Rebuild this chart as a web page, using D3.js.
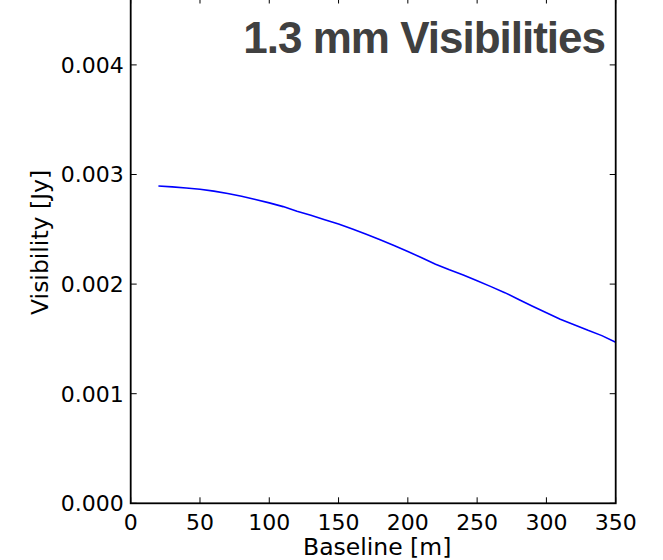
<!DOCTYPE html>
<html>
<head>
<meta charset="utf-8">
<script src="https://cdn.jsdelivr.net/npm/d3@7"></script>
<style>
  html, body { margin: 0; padding: 0; background: #fff; }
  svg { display: block; }
  .tick-label { font-family: "DejaVu Sans", sans-serif; font-size: 22px; fill: #000; }
  .axis-title { font-family: "DejaVu Sans", sans-serif; font-size: 23.5px; fill: #000; }
  .title { font-family: "Liberation Sans", Arial, sans-serif; font-weight: bold; font-size: 44px; fill: #404040; }
</style>
</head>
<body>
<svg id="chart" width="663" height="560"></svg>
<script>
// Visibility amplitude vs. baseline length at 1.3 mm
const baselines = [20, 30, 40, 50, 60, 70, 80, 90, 100, 110, 120, 130, 140, 150, 160, 170, 180,
  190, 200, 210, 220, 230, 240, 250, 260, 270, 280, 290, 300, 310, 320, 330, 340, 350];
const visibilities = [0.002895, 0.002887, 0.002877, 0.002865, 0.002848, 0.002827, 0.002801,
  0.002772, 0.002741, 0.002707, 0.002665, 0.002628, 0.002588, 0.002548, 0.002502, 0.002455,
  0.002405, 0.002352, 0.002298, 0.002240, 0.002182, 0.002130, 0.002082, 0.002030, 0.001977,
  0.001922, 0.001860, 0.001798, 0.001738, 0.001680, 0.001630, 0.001578, 0.001530, 0.001470];

const xTicks = [0, 50, 100, 150, 200, 250, 300, 350];
const yTicks = [0.000, 0.001, 0.002, 0.003, 0.004];
const xDomain = [0, 350];
const yDomain = [0, 0.004615];

const titleText = "1.3 mm Visibilities";
const xLabel = "Baseline [m]";
const yLabel = "Visibility [Jy]";

const svg = d3.select("#chart");
const plot = { left: 130.7, right: 615.7, top: -2.5, bottom: 503.3 };

const x = d3.scaleLinear().domain(xDomain).range([plot.left, plot.right]);
const y = d3.scaleLinear().domain(yDomain).range([plot.bottom, plot.top]);
const tickLen = 6;

// data line
const line = d3.line().x((d, i) => x(baselines[i])).y(d => y(d));
svg.append("path")
  .datum(visibilities)
  .attr("d", line)
  .attr("fill", "none")
  .attr("stroke", "#0000ff")
  .attr("stroke-width", 1.6);

// inward ticks on all four sides
const tickG = svg.append("g").attr("stroke", "#000").attr("stroke-width", 1);
xTicks.forEach(t => {
  tickG.append("line").attr("x1", x(t)).attr("x2", x(t)).attr("y1", plot.bottom).attr("y2", plot.bottom - tickLen);
  tickG.append("line").attr("x1", x(t)).attr("x2", x(t)).attr("y1", plot.top).attr("y2", plot.top + tickLen);
});
yTicks.forEach(t => {
  tickG.append("line").attr("x1", plot.left).attr("x2", plot.left + tickLen).attr("y1", y(t)).attr("y2", y(t));
  tickG.append("line").attr("x1", plot.right).attr("x2", plot.right - tickLen).attr("y1", y(t)).attr("y2", y(t));
});

// frame
svg.append("rect")
  .attr("x", plot.left).attr("y", plot.top)
  .attr("width", plot.right - plot.left).attr("height", plot.bottom - plot.top)
  .attr("fill", "none").attr("stroke", "#000").attr("stroke-width", 1.8);

// tick labels
svg.append("g").selectAll("text").data(xTicks).join("text")
  .attr("class", "tick-label")
  .attr("x", d => x(d)).attr("y", plot.bottom + 27)
  .attr("text-anchor", "middle")
  .text(d => d);

const fmt = d3.format(".3f");
svg.append("g").selectAll("text").data(yTicks).join("text")
  .attr("class", "tick-label")
  .attr("x", plot.left - 7).attr("y", d => y(d))
  .attr("dy", "0.36em")
  .attr("text-anchor", "end")
  .text(d => fmt(d));

// axis titles
svg.append("text").attr("class", "axis-title")
  .attr("x", (plot.left + plot.right) / 2 + 4).attr("y", 555)
  .attr("text-anchor", "middle")
  .text(xLabel);

svg.append("text").attr("class", "axis-title")
  .attr("transform", `translate(48,${(plot.top + plot.bottom) / 2 - 8}) rotate(-90)`)
  .attr("text-anchor", "middle")
  .text(yLabel);

// chart title inside the frame
svg.append("text").attr("class", "title")
  .attr("x", 605).attr("y", 53)
  .attr("text-anchor", "end")
  .attr("letter-spacing", "-1")
  .text(titleText);
</script>
</body>
</html>
